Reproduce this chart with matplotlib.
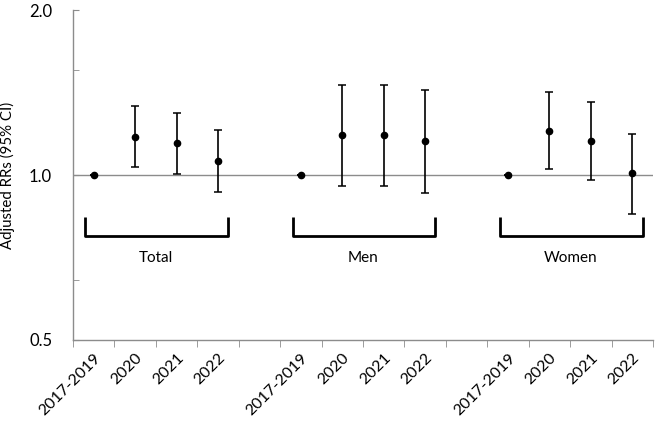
import matplotlib.pyplot as plt
import matplotlib.ticker as mticker
import numpy as np

plt.rcParams['font.family'] = ['Lato', 'DejaVu Sans']

groups = ["Total", "Men", "Women"]
periods = ["2017-2019", "2020", "2021", "2022"]

# adjusted RRs with 95% CI, one list per group (2017-2019 is the reference)
rr_total = [1.0, 1.174, 1.144, 1.06]
lo_total = [1.0, 1.033, 1.003, 0.930]
hi_total = [1.0, 1.334, 1.300, 1.207]

rr_men = [1.0, 1.184, 1.184, 1.154]
lo_men = [1.0, 0.954, 0.954, 0.927]
hi_men = [1.0, 1.462, 1.462, 1.431]

rr_women = [1.0, 1.204, 1.154, 1.009]
lo_women = [1.0, 1.024, 0.978, 0.850]
hi_women = [1.0, 1.415, 1.357, 1.189]

series = [(rr_total, lo_total, hi_total),
          (rr_men, lo_men, hi_men),
          (rr_women, lo_women, hi_women)]

fig = plt.figure(figsize=(6.55, 4.21), dpi=100)
ax = fig.add_axes([73/655, 1-340/421, 580/655, 330/421])

gray = "#8c8c8c"
ax.axhline(1.0, color=gray, lw=1, zorder=1)

xlabels = []
for g, (rr, lo, hi) in enumerate(series):
    start = g * 5
    x = np.arange(start, start + len(rr))
    rr = np.array(rr); lo = np.array(lo); hi = np.array(hi)
    yerr = np.vstack([rr - lo, hi - rr])
    ax.errorbar(x, rr, yerr=yerr, fmt='o', color='black', ms=4.5,
                elinewidth=1.2, capsize=3, capthick=1.1, zorder=3)
    # bracket below each group
    bx0, bx1 = start - 0.2, start + 3.25
    ytop, ybot = 0.838, 0.775
    ax.plot([bx0, bx0, bx1, bx1], [ytop, ybot, ybot, ytop], color='black',
            lw=2, solid_joinstyle='round', solid_capstyle='butt', zorder=3)
    ax.text(start + 1.5, 0.705, groups[g], ha='center', va='center',
            fontsize=11)
    xlabels += periods + ([""] if g < 2 else [])

ax.set_yscale('log')
ax.set_ylim(0.5, 2.0)
ax.set_xlim(-0.5, 13.5)
ax.yaxis.set_major_locator(mticker.FixedLocator([0.5, 1.0, 2.0]))
ax.yaxis.set_major_formatter(mticker.FixedFormatter(["0.5", "1.0", "2.0"]))
ax.yaxis.set_minor_locator(mticker.FixedLocator([0.642, 1.557]))
ax.yaxis.set_minor_formatter(mticker.NullFormatter())
ax.tick_params(axis='y', which='both', direction='in', length=4,
               color=gray, labelsize=12, pad=15)

ax.set_xticks(np.arange(14))
ax.set_xticklabels(xlabels, rotation=45, ha='right', rotation_mode='anchor',
                   fontsize=11.5)
ax.set_xticks(np.arange(-0.5, 14.0, 1), minor=True)
ax.tick_params(axis='x', which='major', length=0, pad=8)
ax.tick_params(axis='x', which='minor', direction='out', length=5, color=gray)

for s in ['top', 'right']:
    ax.spines[s].set_visible(False)
for s in ['left', 'bottom']:
    ax.spines[s].set_color(gray)
    ax.spines[s].set_linewidth(1)

ax.set_ylabel("Adjusted RRs (95% CI)", fontsize=10.8, labelpad=10)

fig.savefig("out.png", dpi=100)
